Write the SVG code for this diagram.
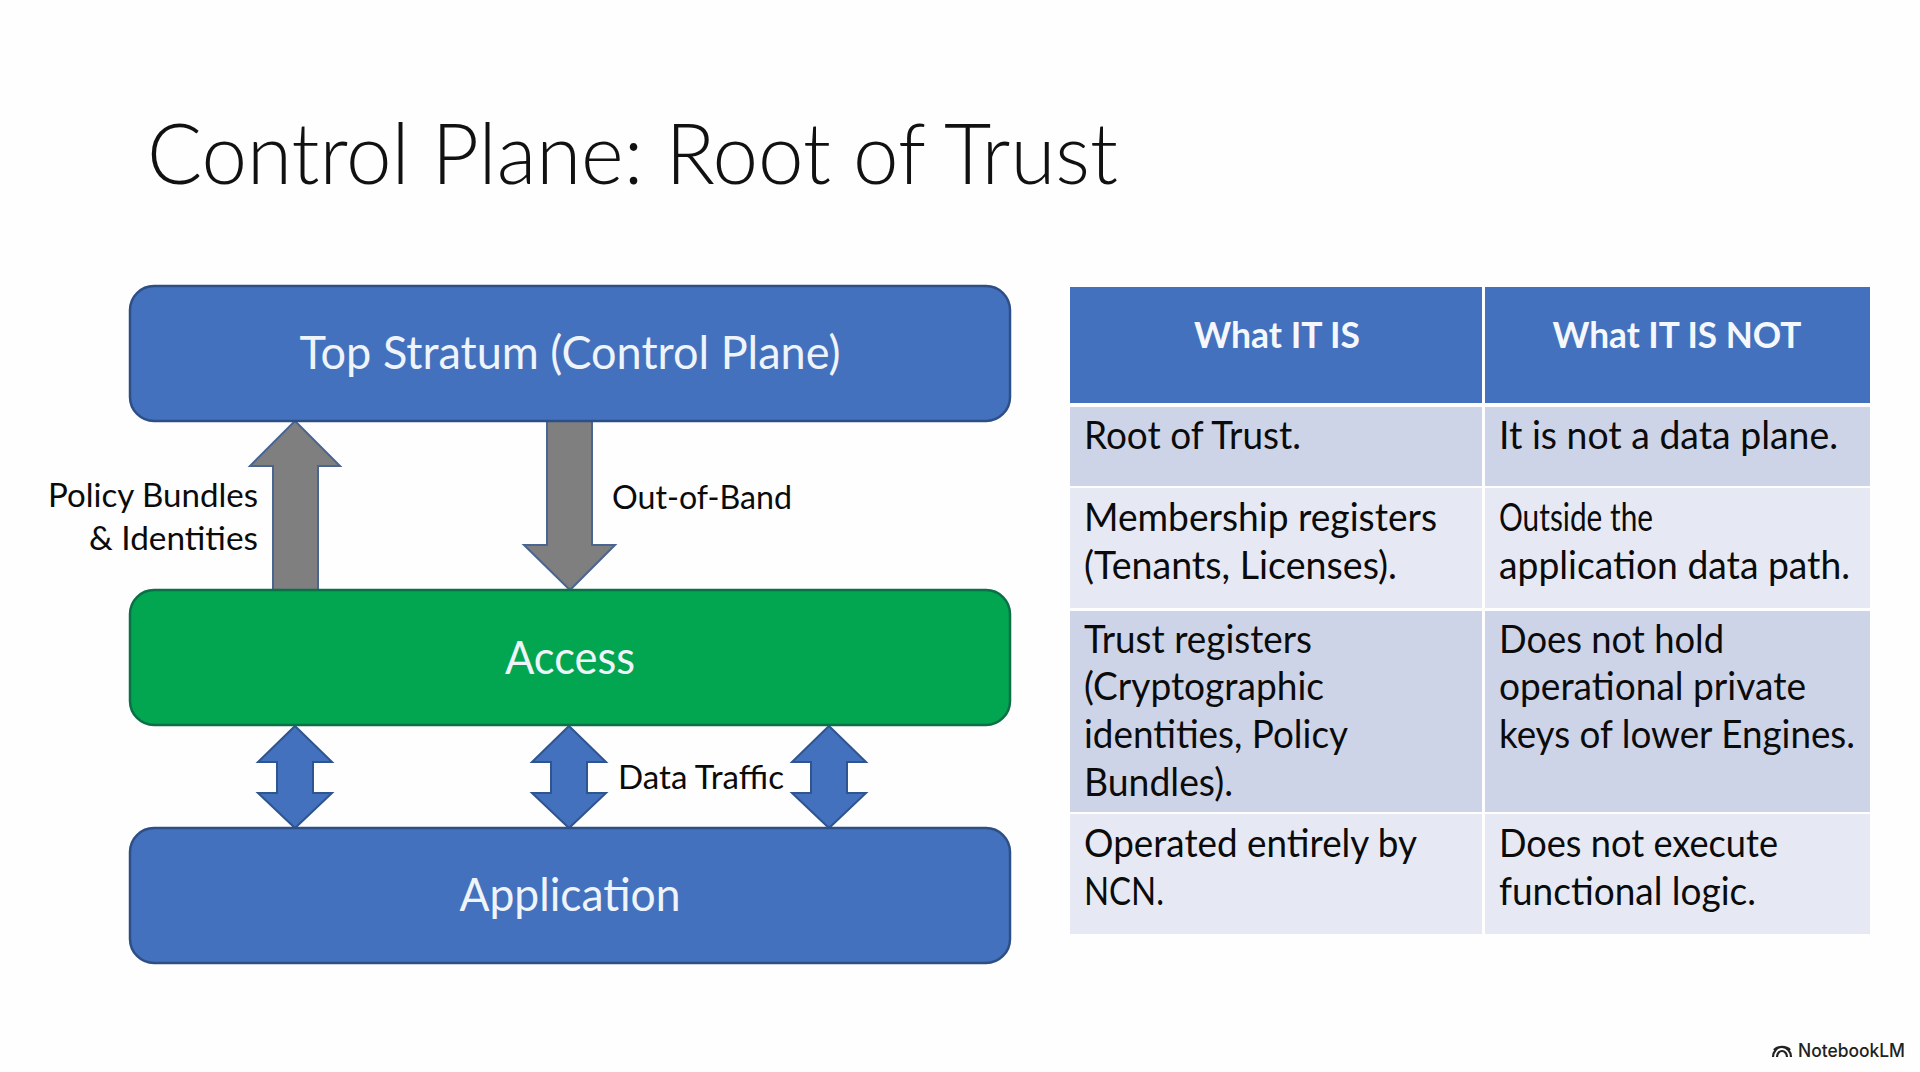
<svg xmlns="http://www.w3.org/2000/svg" width="1920" height="1072" viewBox="0 0 1920 1072">
<style>
text{font-family:"Lato","Carlito","Open Sans",sans-serif;fill:#0b0b0b;font-size:38px}
.title{font-size:84px;font-weight:300;fill:#111}
.box{stroke-width:2.5}
.blue{fill:#4471bd;stroke:#2d4f86}
.green{fill:#02a650;stroke:#0b6f47}
.lab{font-size:46px;fill:#eef4fa;text-anchor:middle}
.side{font-size:33px}
.hd{font-size:36px;font-weight:700;fill:#f4f8fc;text-anchor:middle}
.gray{fill:#7f7f7f;stroke:#4a6590;stroke-width:2;stroke-linejoin:miter}
.dbl{fill:#4471bd;stroke:#2f5590;stroke-width:2}
.cellA{fill:#ced4e7}.cellB{fill:#e6e9f3}.cellH{fill:#4471bd}
.logo{fill:none;stroke:#222;stroke-width:2.2}
</style>
<rect width="1920" height="1072" fill="#fefefe"/>
<g id="title"><text class="title" x="147" y="184" textLength="971" lengthAdjust="spacingAndGlyphs">Control Plane: Root of Trust</text></g>
<g id="connectors">
<path class="gray" d="M295 421L340 466H318V590H273V466H250Z"/>
<path class="gray" d="M547 421H592V545H615L570 590L524 545H547Z"/>
<path class="dbl" d="M295 726L332 762H313V793H332L295 828L258 793H277V762H258Z"/>
<path class="dbl" d="M569 726L606 762H587V793H606L569 828L532 793H551V762H532Z"/>
<path class="dbl" d="M829 726L866 762H847V793H866L829 828L792 793H811V762H792Z"/>
</g>
<g id="node-top"><rect class="box blue" x="130" y="286" width="880" height="135" rx="24"/><text class="lab" x="570" y="369" textLength="541" lengthAdjust="spacingAndGlyphs">Top Stratum (Control Plane)</text></g>
<g id="node-access"><rect class="box green" x="130" y="590" width="880" height="135" rx="24"/><text class="lab" x="570" y="674" textLength="130" lengthAdjust="spacingAndGlyphs">Access</text></g>
<g id="node-application"><rect class="box blue" x="130" y="828" width="880" height="135" rx="24"/><text class="lab" x="570" y="911" textLength="221" lengthAdjust="spacingAndGlyphs">Application</text></g>
<g id="labels">
<text class="side" x="48" y="507" textLength="210" lengthAdjust="spacingAndGlyphs">Policy Bundles</text>
<text class="side" x="89" y="550" textLength="169" lengthAdjust="spacingAndGlyphs">&amp; Identities</text>
<text class="side" x="612" y="509" textLength="180" lengthAdjust="spacingAndGlyphs">Out-of-Band</text>
<text class="side" x="618" y="789" textLength="166" lengthAdjust="spacingAndGlyphs">Data Traffic</text>
</g>
<g id="table">
<rect class="cellH" x="1070" y="287" width="412" height="116"/><rect class="cellH" x="1485" y="287" width="385" height="116"/>
<rect class="cellA" x="1070" y="407" width="412" height="79"/><rect class="cellA" x="1485" y="407" width="385" height="79"/>
<rect class="cellB" x="1070" y="488" width="412" height="120"/><rect class="cellB" x="1485" y="488" width="385" height="120"/>
<rect class="cellA" x="1070" y="611" width="412" height="201"/><rect class="cellA" x="1485" y="611" width="385" height="201"/>
<rect class="cellB" x="1070" y="814" width="412" height="120"/><rect class="cellB" x="1485" y="814" width="385" height="120"/>
<text class="hd" x="1277" y="348" textLength="166" lengthAdjust="spacingAndGlyphs">What IT IS</text>
<text class="hd" x="1677" y="348" textLength="249" lengthAdjust="spacingAndGlyphs">What IT IS NOT</text>
<text x="1084" y="449" textLength="217" lengthAdjust="spacingAndGlyphs">Root of Trust.</text>
<text x="1499" y="449" textLength="339" lengthAdjust="spacingAndGlyphs">It is not a data plane.</text>
<text x="1084" y="531" textLength="353" lengthAdjust="spacingAndGlyphs">Membership registers</text>
<text x="1084" y="579" textLength="313" lengthAdjust="spacingAndGlyphs">(Tenants, Licenses).</text>
<text x="1499" y="531" textLength="154" lengthAdjust="spacingAndGlyphs">Outside the</text>
<text x="1499" y="579" textLength="351" lengthAdjust="spacingAndGlyphs">application data path.</text>
<text x="1084" y="653" textLength="228" lengthAdjust="spacingAndGlyphs">Trust registers</text>
<text x="1084" y="700" textLength="240" lengthAdjust="spacingAndGlyphs">(Cryptographic</text>
<text x="1084" y="748" textLength="264" lengthAdjust="spacingAndGlyphs">identities, Policy</text>
<text x="1084" y="796" textLength="149" lengthAdjust="spacingAndGlyphs">Bundles).</text>
<text x="1499" y="653" textLength="225" lengthAdjust="spacingAndGlyphs">Does not hold</text>
<text x="1499" y="700" textLength="307" lengthAdjust="spacingAndGlyphs">operational private</text>
<text x="1499" y="748" textLength="356" lengthAdjust="spacingAndGlyphs">keys of lower Engines.</text>
<text x="1084" y="857" textLength="333" lengthAdjust="spacingAndGlyphs">Operated entirely by</text>
<text x="1084" y="905" textLength="80" lengthAdjust="spacingAndGlyphs">NCN.</text>
<text x="1499" y="857" textLength="279" lengthAdjust="spacingAndGlyphs">Does not execute</text>
<text x="1499" y="905" textLength="257" lengthAdjust="spacingAndGlyphs">functional logic.</text>
</g>
<g id="watermark">
<path class="logo" d="M1773 1057A9 10 0 0 1 1791 1057M1777 1057A5 6 0 0 1 1787 1057M1774 1050A9 6 0 0 1 1790 1050"/>
<text x="1798" y="1057" textLength="107" lengthAdjust="spacingAndGlyphs" style="font-family:Inter,'Liberation Sans',sans-serif;font-size:18px;font-weight:500;fill:#222">NotebookLM</text>
</g>
</svg>
